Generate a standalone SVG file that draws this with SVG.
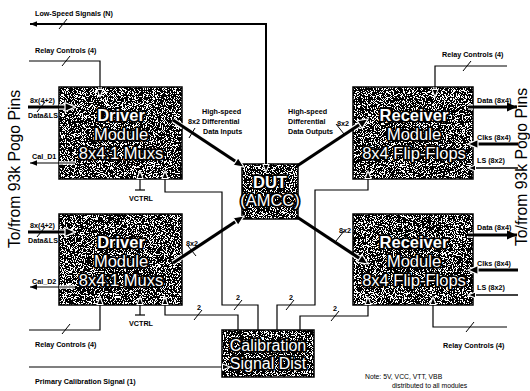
<svg xmlns="http://www.w3.org/2000/svg" width="530" height="391" viewBox="0 0 530 391">
<style>
text{font-family:"Liberation Sans",Arial,sans-serif;fill:#000}
.lb{font-size:7.2px;font-weight:bold}
.nt{font-size:6.8px}
.bt{font-size:16.5px;fill:#fff;stroke:#000;stroke-width:3.6;paint-order:stroke;stroke-linejoin:round;text-anchor:middle}
.bb{font-weight:bold}
.side{font-size:17px}
.box{fill:#000;filter:url(#speck)}
.edge{fill:none;stroke:#000;stroke-width:1.5}
.c{fill:none;stroke:#000;stroke-width:1.2}
.w{stroke-width:2}
.k{stroke-width:3.2}
.h{fill:none;stroke:#fff;stroke-width:3.4}
.hk{fill:none;stroke:#fff;stroke-width:5.4}
.sl{stroke:#000;stroke-width:1;fill:none}
</style>
<defs>
<filter id="speck" filterUnits="objectBoundingBox" x="0" y="0" width="1" height="1">
<feTurbulence type="fractalNoise" baseFrequency="1.1" numOctaves="3" seed="4"/>
<feColorMatrix type="matrix" values="0 0 0 0 1 0 0 0 0 1 0 0 0 0 1 1 0 0 0 0"/>
<feComponentTransfer><feFuncA type="discrete" tableValues="0 0 0 0 0 0 0 0 0 0 0 1 1 1 1 1 1 1 1 1"/></feComponentTransfer>
<feComposite in2="SourceGraphic" operator="over" result="m"/>
<feComposite in="m" in2="SourceAlpha" operator="in"/>
</filter>
<marker id="a" viewBox="0 0 10 10" refX="10" refY="5" markerWidth="7" markerHeight="7" markerUnits="userSpaceOnUse" orient="auto-start-reverse"><path d="M0,1 L10,5 L0,9 z" fill="#000"/></marker>
<marker id="aw" viewBox="-1 -1 12 12" refX="10" refY="5" markerWidth="9" markerHeight="9" markerUnits="userSpaceOnUse" orient="auto"><path d="M0,1 L10,5 L0,9 z" fill="#000" stroke="#fff" stroke-width="1.4"/></marker>
<marker id="A" viewBox="0 0 10 10" refX="10" refY="5" markerWidth="11" markerHeight="10" markerUnits="userSpaceOnUse" orient="auto"><path d="M0,0.5 L10,5 L0,9.5 z" fill="#000"/></marker>
<marker id="AW" viewBox="-1 -1 12 12" refX="10" refY="5" markerWidth="13" markerHeight="12" markerUnits="userSpaceOnUse" orient="auto"><path d="M0,0.5 L10,5 L0,9.5 z" fill="#000" stroke="#fff" stroke-width="1.2"/></marker>
</defs>
<rect width="530" height="391" fill="#fff"/>

<g id="driver1">
<rect class="box" x="59" y="87" width="123" height="92"/>
<rect class="edge" x="59" y="87" width="123" height="92"/>
<text class="bt bb" x="121" y="121">Driver</text>
<text class="bt" x="121" y="140">Module</text>
<text class="bt" x="121" y="159">8x4:1 Muxs</text>
</g>
<g id="driver2">
<rect class="box" x="59" y="214" width="123" height="91"/>
<rect class="edge" x="59" y="214" width="123" height="91"/>
<text class="bt bb" x="121" y="248">Driver</text>
<text class="bt" x="121" y="267">Module</text>
<text class="bt" x="121" y="286">8x4:1 Muxs</text>
</g>
<g id="receiver1">
<rect class="box" x="353" y="87" width="120" height="92"/>
<rect class="edge" x="353" y="87" width="120" height="92"/>
<text class="bt bb" x="414" y="121">Receiver</text>
<text class="bt" x="414" y="140">Module</text>
<text class="bt" x="414" y="159">8x4 Flip-Flops</text>
</g>
<g id="receiver2">
<rect class="box" x="353" y="214" width="120" height="91"/>
<rect class="edge" x="353" y="214" width="120" height="91"/>
<text class="bt bb" x="414" y="248">Receiver</text>
<text class="bt" x="414" y="267">Module</text>
<text class="bt" x="414" y="286">8x4 Flip-Flops</text>
</g>
<g id="dut">
<rect class="box" x="242" y="164" width="56" height="55"/>
<rect class="edge" x="242" y="164" width="56" height="55"/>
<text class="bt bb" x="270" y="188">DUT</text>
<text class="bt" x="270" y="206">(AMCC)</text>
</g>
<g id="calibration">
<rect class="box" x="222" y="330" width="92" height="47"/>
<rect class="edge" x="222" y="330" width="92" height="47"/>
<text class="bt" x="268" y="351" style="font-size:16px">Calibration</text>
<text class="bt" x="268" y="369" style="font-size:16px">Signal Dist</text>
</g>

<g id="connectors">
<g id="halos">
<path class="h" d="M266,150 V170"/>
<path class="h" d="M100,87 V95"/>
<path class="hk" d="M59,107 H73"/>
<path class="h" d="M75,163 H59"/>
<path class="h" d="M140,179 V172"/>
<path class="h" d="M165,179 V172"/>
<path class="hk" d="M59,232 H73"/>
<path class="h" d="M75,287 H59"/>
<path class="h" d="M140,305 V298"/>
<path class="h" d="M165,305 V298"/>
<path class="h" d="M100,305 V298"/>
<path class="hk" d="M173,120 L183,127"/>
<path class="hk" d="M173,263 L183,256"/>
<path class="hk" d="M353,129 L366,120"/>
<path class="hk" d="M353,254 L366,263"/>
<path class="h" d="M435,87 V95"/>
<path class="hk" d="M468,107 H473"/>
<path class="hk" d="M473,144 H470"/>
<path class="h" d="M473,168 H470"/>
<path class="h" d="M368,179 V172"/>
<path class="hk" d="M468,235 H473"/>
<path class="hk" d="M473,270 H470"/>
<path class="h" d="M473,295 H470"/>
<path class="h" d="M368,305 V298"/>
<path class="h" d="M433,305 V298"/>
</g>
<path class="c w" d="M30,24 H266 V172" marker-start="url(#a)" marker-end="url(#aw)"/>
<path class="c" d="M29,61 H100 V97" marker-end="url(#aw)"/>
<path class="c k" d="M28,107 H75" marker-end="url(#AW)"/>
<path class="c" d="M75,163 H30" marker-end="url(#a)"/>
<path class="c" d="M140,190 V171" marker-end="url(#aw)"/>
<path class="c" d="M135,190 H145"/>
<path class="c" d="M258,330 V305 H222 V192 H165 V171" marker-end="url(#aw)"/>
<path class="c k" d="M28,232 H75" marker-end="url(#AW)"/>
<path class="c" d="M75,287 H30" marker-end="url(#a)"/>
<path class="c" d="M140,315 V297" marker-end="url(#aw)"/>
<path class="c" d="M135,315 H145"/>
<path class="c" d="M238,330 V315 H165 V297" marker-end="url(#aw)"/>
<path class="c" d="M29,330 H100 V297" marker-end="url(#aw)"/>
<path class="c" d="M29,367 H230" marker-end="url(#aw)"/>
<path class="c k" d="M173,120 L244,167" marker-end="url(#AW)"/>
<path class="c k" d="M173,263 L244,216" marker-end="url(#AW)"/>
<path class="c k" d="M297,166 L368,119" marker-end="url(#AW)"/>
<path class="c k" d="M297,217 L368,264" marker-end="url(#AW)"/>
<path class="c" d="M507,66 H435 V97" marker-end="url(#aw)"/>
<path class="c k" d="M468,107 H517" marker-end="url(#A)"/>
<path class="c k" d="M518,144 H468" marker-end="url(#AW)"/>
<path class="c" style="stroke-width:1.5" d="M518,168 H468" marker-end="url(#aw)"/>
<path class="c" d="M277,330 V305 H315 V190 H368 V171" marker-end="url(#aw)"/>
<path class="c k" d="M468,235 H517" marker-end="url(#A)"/>
<path class="c k" d="M518,270 H468" marker-end="url(#AW)"/>
<path class="c" style="stroke-width:1.5" d="M518,295 H468" marker-end="url(#aw)"/>
<path class="c" d="M300,330 V316 H368 V297" marker-end="url(#aw)"/>
<path class="c" d="M507,327 H433 V297" marker-end="url(#aw)"/>
<g id="slashes">
<path class="sl" d="M59,29 L67,19"/>
<path class="sl" d="M62,66 L70,56"/>
<path class="sl" d="M37,112 L45,102"/>
<path class="sl" d="M37,237 L45,227"/>
<path class="sl" d="M62,334 L70,324"/>
<path class="sl" d="M234,310 L242,300"/>
<path class="sl" d="M194,320 L202,310"/>
<path class="sl" d="M286,310 L294,300"/>
<path class="sl" d="M331,321 L339,311"/>
<path class="sl" d="M463,71 L471,61"/>
<path class="sl" d="M466,332 L474,322"/>
<path class="sl" d="M189,138 L195,128"/>
<path class="sl" d="M188,246 L196,256"/>
<path class="sl" d="M336,124 L344,134"/>
<path class="sl" d="M336,241 L344,231"/>
</g>
</g>

<g id="labels">
<text class="lb" x="35" y="16">Low-Speed Signals (N)</text>
<text class="lb" x="35" y="53">Relay Controls (4)</text>
<text class="lb" x="30" y="103">8x(4+2)</text>
<text class="lb" x="28" y="118">Data&amp;LS</text>
<text class="lb" x="32" y="159">Cal_D1</text>
<text class="lb" x="129" y="201">VCTRL</text>
<text class="lb" x="30" y="228">8x(4+2)</text>
<text class="lb" x="28" y="243">Data&amp;LS</text>
<text class="lb" x="32" y="284">Cal_D2</text>
<text class="lb" x="129" y="326">VCTRL</text>
<text class="lb" x="35" y="347">Relay Controls (4)</text>
<text class="lb" x="35" y="384">Primary Calibration Signal (1)</text>
<text class="lb" x="202" y="114">High-speed</text>
<text class="lb" x="188" y="124">8x2 Differential</text>
<text class="lb" x="203" y="134">Data Inputs</text>
<text class="lb" x="186" y="246">8x2</text>
<text class="lb" x="288" y="114">High-speed</text>
<text class="lb" x="288" y="124">Differential</text>
<text class="lb" x="288" y="134">Data Outputs</text>
<text class="lb" x="337" y="126">8x2</text>
<text class="lb" x="339" y="233">8x2</text>
<text class="lb" x="236" y="300">2</text>
<text class="lb" x="197" y="310">2</text>
<text class="lb" x="289" y="300">2</text>
<text class="lb" x="333" y="311">2</text>
<text class="lb" x="442" y="57">Relay Controls (4)</text>
<text class="lb" x="477" y="103">Data (8x4)</text>
<text class="lb" x="477" y="140">Clks (8x4)</text>
<text class="lb" x="477" y="163">LS (8x2)</text>
<text class="lb" x="477" y="230">Data (8x4)</text>
<text class="lb" x="477" y="266">Clks (8x4)</text>
<text class="lb" x="477" y="290">LS (8x2)</text>
<text class="lb" x="443" y="348">Relay Controls (4)</text>
<text class="nt" x="365" y="379">Note:  5V, VCC, VTT, VBB</text>
<text class="nt" x="392" y="388">distributed to all modules</text>
<text class="side" transform="translate(20,248) rotate(-90)" textLength="158" lengthAdjust="spacingAndGlyphs">To/from 93k Pogo Pins</text>
<text class="side" transform="translate(527,246) rotate(-90)" textLength="158" lengthAdjust="spacingAndGlyphs">To/from 93k Pogo Pins</text>
</g>
</svg>
